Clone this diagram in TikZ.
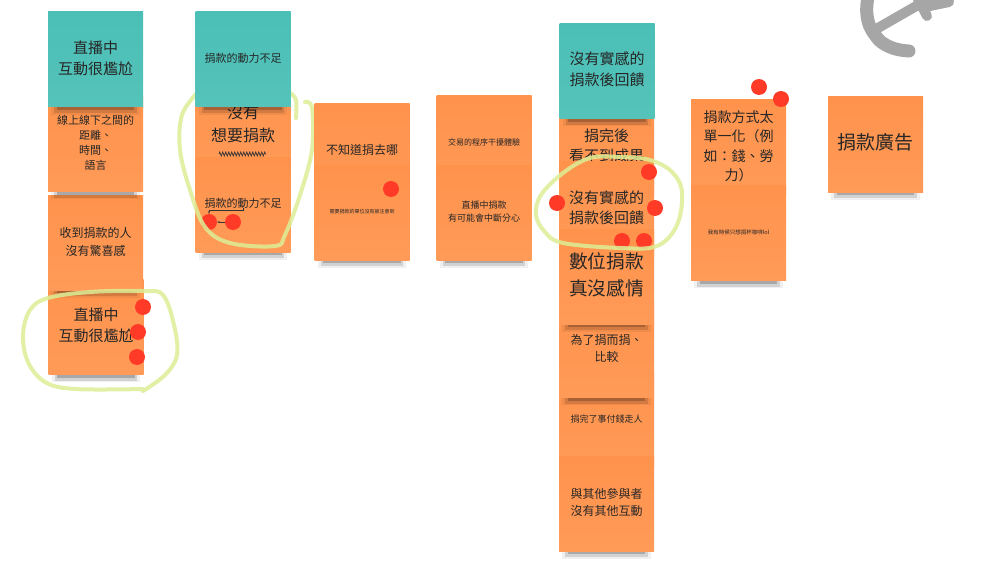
\documentclass[tikz,border=0pt]{standalone}
\usepackage{fontspec}
\setmainfont{Noto Sans CJK TC}
\usetikzlibrary{arrows.meta,shadows,decorations.pathmorphing}
\definecolor{NoteOrange}{HTML}{FF934C}
\definecolor{NoteOrangeLow}{HTML}{FF9A58}
\definecolor{NoteTeal}{HTML}{4BBFB6}
\definecolor{NoteTealLow}{HTML}{55C3BA}
\definecolor{Dot}{HTML}{FF3B28}
\definecolor{Marker}{HTML}{DCEE96}
\definecolor{AnchorGray}{HTML}{A6A6A6}
\newcommand{\lifted}[1]{\raisebox{2pt}{\begin{tabular}{@{}c@{}}#1\end{tabular}}}
\tikzset{
  fs/.style 2 args={font=\fontsize{#1}{#2}\selectfont},
  sticky/.style={minimum width=95pt,minimum height=95pt,inner sep=0pt,text=black!85,
    general shadow={fill=black,opacity=.06,shadow scale=.93,shadow yshift=-12pt},
    general shadow={fill=black,opacity=.12,shadow scale=.87,shadow yshift=-14pt},
    general shadow={fill=black,opacity=.20,shadow scale=.82,shadow yshift=-14.5pt},
    general shadow={fill=black,opacity=.25,shadow scale=.78,shadow yshift=-14pt}},
  orangenote/.style={sticky,top color=NoteOrange,bottom color=NoteOrangeLow},
  tealnote/.style={sticky,top color=NoteTeal,bottom color=NoteTealLow},
  vote/.style={circle,fill=Dot,minimum size=16pt,inner sep=0pt},
  loopline/.style={draw=Marker,line width=4pt,line cap=round,line join=round,opacity=.85},
  anchorline/.style={draw=AnchorGray,line width=10pt,line cap=round}
}
\begin{document}
\begin{tikzpicture}[x=1pt,y=-1pt,>={Stealth[length=2.5pt]}]
        \useasboundingbox[fill=white] (0,0) rectangle (986,578);
        % anchor, top right
        \draw[anchorline,line width=13pt] plot[smooth,tension=.8] coordinates {(869,-8) (867,15) (875,35) (890,47) (909,51)};
        \draw[anchorline] (878,28) -- (932,-3);
        \draw[anchorline] (927,16) -- (917,-3);
        \draw[anchorline] (949,2) -- (925,7);
        % column 1
        \node[orangenote,fs={15}{21}] (direct) at (96,327) {\lifted{直播中\\互動很尷尬}};
        \node[orangenote,fs={12}{18}] (surprise) at (95.5,242.5) {\lifted{收到捐款的人\\沒有驚喜感}};
        \node[orangenote,fs={11}{15}] (distance) at (95.5,144) {\lifted{線上線下之間的\\距離、\\時間、\\語言}};
        \node[tealnote,fs={15}{21}] (directhead) at (95.5,59.5) {\lifted{直播中\\互動很尷尬}};
        \node[vote] (da) at (143,307) {};
        \node[vote] (db) at (138,332) {};
        \node[vote] (dc) at (137,357) {};
        \draw[loopline] plot[smooth,tension=.6] coordinates {(143,391) (165,375) (177,355) (174,325) (163,295) (143,291) (90,292) (48,298) (30,310) (23,335) (28,362) (45,382) (75,389) (143,389)};
        % column 2
        \node[orangenote,fs={16}{23}] (nowish) at (243,125.5) {\lifted{沒有\\想要捐款}};
        \node[orangenote,fs={11}{15}] (motive) at (243,204.5) {\lifted{捐款的動力不足}};
        \draw[black!80,line width=.7pt,decorate,decoration={zigzag,segment length=3pt,amplitude=2pt}] (219,154) -- (266,154);
        \node[vote] (ma) at (209,222) {};
        \node[vote] (mb) at (233,222) {};
        \node[vote] (mc) at (277,99) {};
        \coordinate (mbrace) at (243,208);
        \draw[black!80,line width=.4pt,->] (mbrace) -- (243,210) -- (209,210) -- (ma.north);
        \draw[black!80,line width=.4pt,->] (mb) -- (ma);
        \draw[loopline] plot[smooth,tension=.6] coordinates {(305,102) (312,108) (312,150) (300,195) (285,235) (275,246) (230,243) (205,227) (190,190) (180,150) (182,115) (197,93)};
        \draw[loopline] plot[smooth,tension=.6] coordinates {(290,93) (296,100) (296,118)};
        \node[tealnote,fs={11}{15}] (motivehead) at (243,59.5) {\lifted{捐款的動力不足}};
        % column 3
        \node[orangenote,fs={12}{16}] (where) at (362,151) {\lifted{不知道捐去哪}};
        \node[orangenote,fs={5}{7}] (unit) at (362,212.5) {\lifted{需要捐款的單位沒有被注意到}};
        \node[vote] (wa) at (391,189) {};
        % column 4
        \node[orangenote,fs={8}{12}] (flow) at (484,143.5) {\lifted{交易的程序干擾體驗}};
        \node[orangenote,fs={9}{13}] (stream) at (484,212.5) {\lifted{直播中捐款\\有可能會中斷分心}};
        % column 5
        \node[orangenote,fs={9}{12}] (leave) at (606.5,420) {\lifted{捐完了事付錢走人}};
        \node[orangenote,fs={12}{17}] (talk) at (606.5,503.5) {\lifted{與其他參與者\\沒有其他互動}};
        \node[orangenote,fs={12}{17}] (compare) at (606.5,350) {\lifted{為了捐而捐、\\比較}};
        \node[orangenote,fs={15}{20}] (after) at (606.5,147) {\lifted{捐完後\\看不到成果}};
        \node[orangenote,fs={15}{20}] (real) at (606.5,209) {\lifted{沒有實感的\\捐款後回饋}};
        \node[orangenote,fs={18.7}{27}] (cold) at (606.5,276.5) {\lifted{數位捐款\\真沒感情}};
        \node[tealnote,fs={15}{20}] (realhead) at (607,71) {\lifted{沒有實感的\\捐款後回饋}};
        \node[vote] (ra) at (649,172) {};
        \node[vote] (rb) at (557,203) {};
        \node[vote] (rc) at (655,208) {};
        \node[vote] (rd) at (622,241) {};
        \node[vote] (re) at (644,241) {};
        \draw[loopline] plot[smooth cycle,tension=.6] coordinates {(590,158) (620,157) (650,160) (672,172) (682,192) (677,225) (657,246) (620,248) (563,243) (545,232) (536,215) (541,195) (563,173)};
        % column 6
        \node[orangenote,fs={14}{19.5}] (single) at (738.5,147.5) {\lifted{捐款方式太\\單一化（例\\如：錢、勞\\力）}};
        \node[orangenote,fs={5.5}{7}] (coffee) at (738.5,233) {\lifted{我有時候只想捐杯咖啡lol}};
        \node[vote] (sa) at (759,87) {};
        \node[vote] (sb) at (781,99) {};
        % column 7
        \node[orangenote,fs={19}{24}] (advert) at (875.5,144.5) {\lifted{捐款廣告}};
      \end{tikzpicture}
\end{document}
